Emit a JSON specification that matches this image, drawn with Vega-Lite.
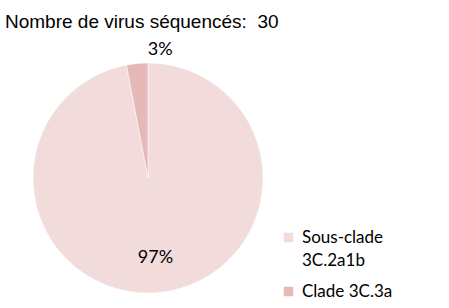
{
  "$schema": "https://vega.github.io/schema/vega-lite/v6.json",
  "autosize": "none",
  "width": 296,
  "height": 260,
  "padding": {"left": 0, "top": 48, "right": 153, "bottom": 0},
  "background": "white",
  "title": {
    "text": "Nombre de virus séquencés: \u00a030",
    "anchor": "start",
    "frame": "group",
    "font": "Liberation Sans",
    "fontSize": 19,
    "fontWeight": "normal",
    "color": "#000000",
    "offset": 9,
    "dx": 5
  },
  "config": {"view": {"stroke": null}, "style": {"guide-label": {"lineHeight": 23}}},
  "data": {
    "values": [
      {"clade": "Sous-clade 3C.2a1b", "pct": 97, "label": "97%", "o": 1},
      {"clade": "Clade 3C.3a", "pct": 3, "label": "3%", "o": 2}
    ]
  },
  "encoding": {
    "theta": {"field": "pct", "type": "quantitative", "stack": true},
    "order": {"field": "o", "type": "quantitative"}
  },
  "layer": [
    {
      "mark": {"type": "arc", "outerRadius": 115, "stroke": "white", "strokeWidth": 0.5},
      "encoding": {
        "color": {
          "field": "clade",
          "type": "nominal",
          "sort": ["Sous-clade 3C.2a1b", "Clade 3C.3a"],
          "scale": {"domain": ["Sous-clade 3C.2a1b", "Clade 3C.3a"], "range": ["#f2dcdb", "#e6b9b8"]},
          "legend": {
            "title": null,
            "orient": "none",
            "legendX": 280,
            "legendY": 181,
            "symbolType": "square",
            "symbolSize": 90,
            "symbolStrokeWidth": 0,
            "labelFont": "Lato",
            "labelFontSize": 17,
            "labelColor": "#000000",
            "labelOffset": 5,
            "labelLimit": 200,
            "rowPadding": 13,
            "labelExpr": "datum.label == 'Sous-clade 3C.2a1b' ? ['Sous-clade', '3C.2a1b'] : datum.label",
            "encode": {"labels": {"update": {"lineHeight": {"value": 23}}}}
          }
        }
      }
    },
    {
      "mark": {"type": "text", "font": "Lato", "fontSize": 18, "color": "#000000"},
      "encoding": {
        "text": {"field": "label", "type": "nominal"},
        "radius": {
          "field": "clade",
          "type": "nominal",
          "scale": {"domain": ["Sous-clade 3C.2a1b", "Clade 3C.3a"], "range": [80, 129]}
        }
      }
    }
  ]
}
